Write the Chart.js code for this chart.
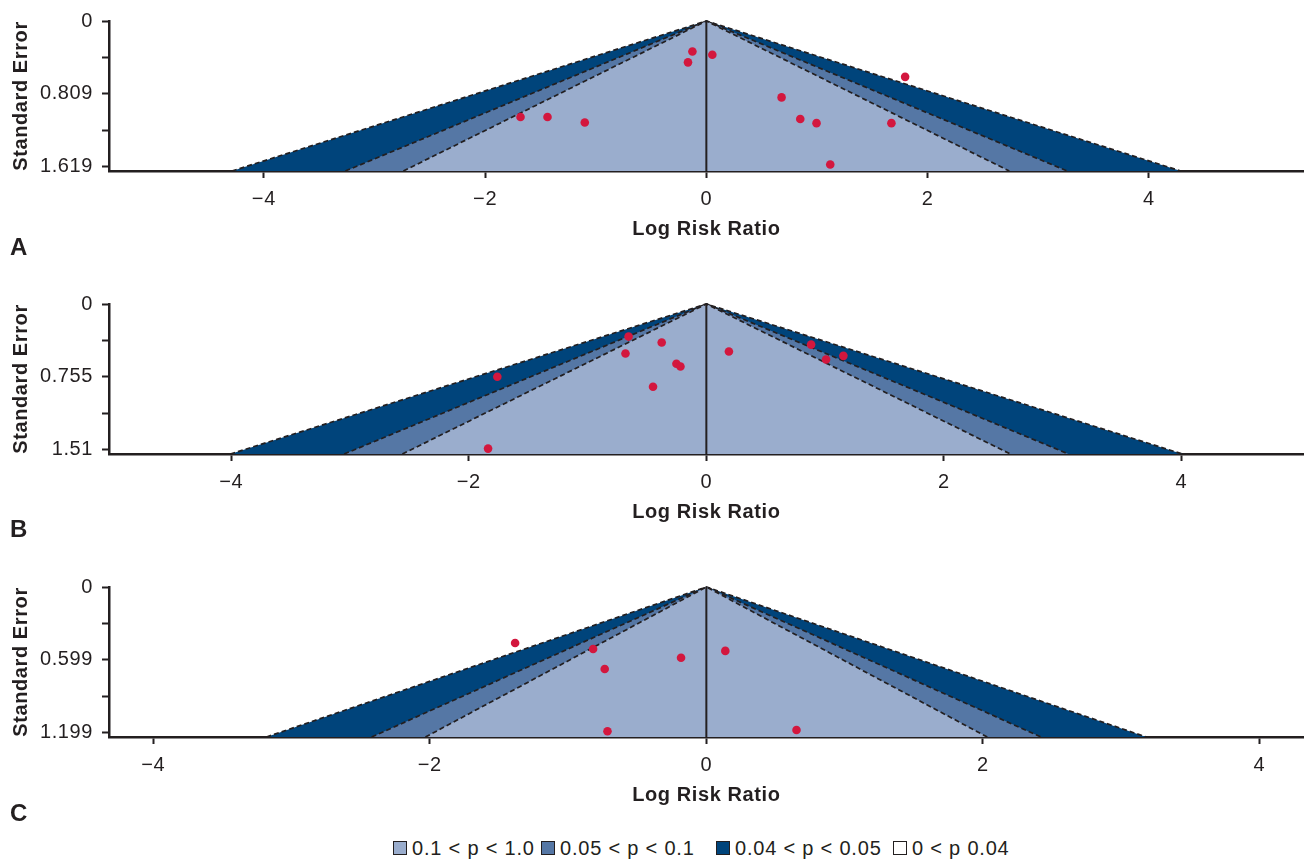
<!DOCTYPE html>
<html>
<head>
<meta charset="utf-8">
<title>Contour-enhanced funnel plots</title>
<script src="https://cdn.jsdelivr.net/npm/chart.js@4/dist/chart.umd.min.js"></script>
<style>
  html, body { margin: 0; padding: 0; background: #ffffff; }
  body {
    width: 1308px; height: 859px; position: relative; overflow: hidden;
    font-family: "Liberation Sans", Arial, Helvetica, sans-serif; color: #231f20;
  }
  .panel { position: absolute; left: 0; width: 1308px; height: 260px; }
  .tag { position: absolute; left: 10px; font-weight: bold; font-size: 24px; line-height: 24px; }
  .item {
    position: absolute; top: 837px; height: 22px; display: flex; align-items: center;
    font-size: 20px; line-height: 22px; letter-spacing: 0.8px; white-space: pre;
  }
  .swatch { width: 12px; height: 12px; border: 1.5px solid #231f20; margin-right: 5px; flex: none; }
</style>
</head>
<body>
<div class="panel" style="top:0px"><canvas id="panelA"></canvas></div>
<div class="panel" style="top:283px"><canvas id="panelB"></canvas></div>
<div class="panel" style="top:566px"><canvas id="panelC"></canvas></div>
<div class="tag" style="top:235px">A</div>
<div class="tag" style="top:517px">B</div>
<div class="tag" style="top:801px">C</div>
<div id="legend"></div>

<script>
// ---- Study estimates (log risk ratio vs. standard error) ----
const logRrA = [-0.126, -0.166, 0.054, -1.680, -1.436, -1.099, 0.680, 0.849, 0.996, 1.120, 1.797, 1.673];
const seA    = [ 0.338,  0.459, 0.374,  1.065,  1.065,  1.127, 0.848, 1.087, 1.134, 1.593, 0.620, 1.134];

const logRrB = [-0.655, -0.376, -0.681, -1.760, -0.252, -0.218, -0.449, -1.838, 0.190, 0.882, 1.008, 1.154];
const seB    = [ 0.338,  0.400,  0.514,  0.755,  0.620,  0.648,  0.858,  1.500, 0.493, 0.421, 0.576, 0.538];

const logRrC = [-1.383, -0.819, -0.735, -0.183, 0.137, -0.715, 0.652];
const seC    = [ 0.461,  0.510,  0.675,  0.583, 0.526,  1.188, 1.177];

// ---- Axis settings per panel ----
const seTicksA = [0, 0.809, 1.619];
const seTicksB = [0, 0.755, 1.51];
const seTicksC = [0, 0.599, 1.199];
const seLimitA = 1.665, seLimitB = 1.556, seLimitC = 1.235;
const xLimitA = 5.4, xLimitB = 5.03, xLimitC = 4.32;
const xTicks = [-4, -2, 0, 2, 4];

// ---- Significance contours (z multipliers), outermost first ----
const contourZ = [2.576, 1.96, 1.645];
const contourColors = ['#00447b', '#5577a5', '#9aadcd'];

// ---- Legend ----
const legendLabels = ['0.1 < p < 1.0', '0.05 < p < 0.1', '0.04 < p < 0.05', '0 < p 0.04'];
const legendColors = ['#9aadcd', '#5577a5', '#00447b', '#ffffff'];
const legendLeft = [393, 541, 716, 893];

const INK = '#231f20';
const FAMILY = '"Liberation Sans", Arial, Helvetica, sans-serif';
const POINT_RED = '#d3173e';

// Slightly wider tracking for all canvas text
const trackingPlugin = {
  id: 'tracking',
  beforeDraw(chart) { chart.ctx.letterSpacing = '0.6px'; }
};

function fmtX(v) {
  return v < 0 ? '\u2212' + Math.abs(v) : String(v);
}

function makePanel(canvasId, logRr, se, seTicks, seLimit, xLimit) {
  const datasets = [];

  datasets.push({
    type: 'scatter',
    data: logRr.map((x, i) => ({ x: x, y: se[i] })),
    backgroundColor: POINT_RED,
    pointRadius: 4.3,
    pointBorderWidth: 0,
    order: 0
  });

  datasets.push({
    type: 'line',
    data: [{ x: 0, y: 0 }, { x: 0, y: seLimit }],
    borderColor: INK,
    borderWidth: 2,
    pointRadius: 0,
    fill: false,
    clip: false,
    order: 1
  });

  contourZ.forEach((z, k) => {
    datasets.push({
      type: 'line',
      data: [{ x: -z * seLimit, y: seLimit }, { x: 0, y: 0 }, { x: z * seLimit, y: seLimit }],
      borderColor: INK,
      borderWidth: 1.7,
      borderDash: [5, 3],
      backgroundColor: contourColors[k],
      fill: { value: seLimit },
      pointRadius: 0,
      tension: 0,
      clip: false,
      order: 10 - k
    });
  });

  // unlabeled minor marks halfway between labelled standard-error ticks
  const seMarks = [];
  seTicks.forEach((v, i) => {
    if (i > 0) seMarks.push((seTicks[i - 1] + v) / 2);
    seMarks.push(v);
  });

  new Chart(document.getElementById(canvasId), {
    type: 'scatter',
    data: { datasets: datasets },
    plugins: [trackingPlugin],
    options: {
      responsive: true,
      maintainAspectRatio: false,
      animation: false,
      events: [],
      layout: { padding: { top: 20, right: 3, bottom: 0, left: 0 } },
      plugins: { legend: { display: false }, tooltip: { enabled: false } },
      scales: {
        x: {
          type: 'linear',
          min: -xLimit,
          max: xLimit,
          afterBuildTicks: (s) => { s.ticks = xTicks.map(v => ({ value: v })); },
          afterFit: (s) => { s.height = 89; },
          border: { display: true, color: INK, width: 2.5 },
          grid: { display: true, drawOnChartArea: false, drawTicks: true, tickLength: 7, tickWidth: 2, tickColor: INK },
          ticks: {
            color: INK, font: { family: FAMILY, size: 20 }, padding: 9,
            maxRotation: 0, autoSkip: false,
            callback: (v) => fmtX(v)
          },
          title: {
            display: true, text: 'Log Risk Ratio', color: INK,
            font: { family: FAMILY, size: 20, weight: 'bold' },
            padding: { top: 0, bottom: 19 }
          }
        },
        y: {
          type: 'linear',
          reverse: true,
          min: 0,
          max: seLimit,
          afterBuildTicks: (s) => { s.ticks = seMarks.map(v => ({ value: v })); },
          afterFit: (s) => { s.width = 109; },
          border: { display: true, color: INK, width: 2.5 },
          grid: { display: true, drawOnChartArea: false, drawTicks: true, tickLength: 7, tickWidth: 2, tickColor: INK },
          ticks: {
            color: INK, font: { family: FAMILY, size: 20 }, padding: 9,
            autoSkip: false,
            callback: (v) => (seTicks.indexOf(v) >= 0 ? String(v) : '')
          },
          title: {
            display: true, text: 'Standard Error', color: INK,
            font: { family: FAMILY, size: 20, weight: 'bold' },
            padding: { top: 9.5, bottom: 0 }
          }
        }
      }
    }
  });
}

makePanel('panelA', logRrA, seA, seTicksA, seLimitA, xLimitA);
makePanel('panelB', logRrB, seB, seTicksB, seLimitB, xLimitB);
makePanel('panelC', logRrC, seC, seTicksC, seLimitC, xLimitC);

// Shared legend for the contour regions
const legendEl = document.getElementById('legend');
legendLabels.forEach((label, i) => {
  const item = document.createElement('div');
  item.className = 'item';
  item.style.left = legendLeft[i] + 'px';
  const sw = document.createElement('span');
  sw.className = 'swatch';
  sw.style.background = legendColors[i];
  const txt = document.createElement('span');
  txt.textContent = label;
  item.appendChild(sw);
  item.appendChild(txt);
  legendEl.appendChild(item);
});
</script>
</body>
</html>
